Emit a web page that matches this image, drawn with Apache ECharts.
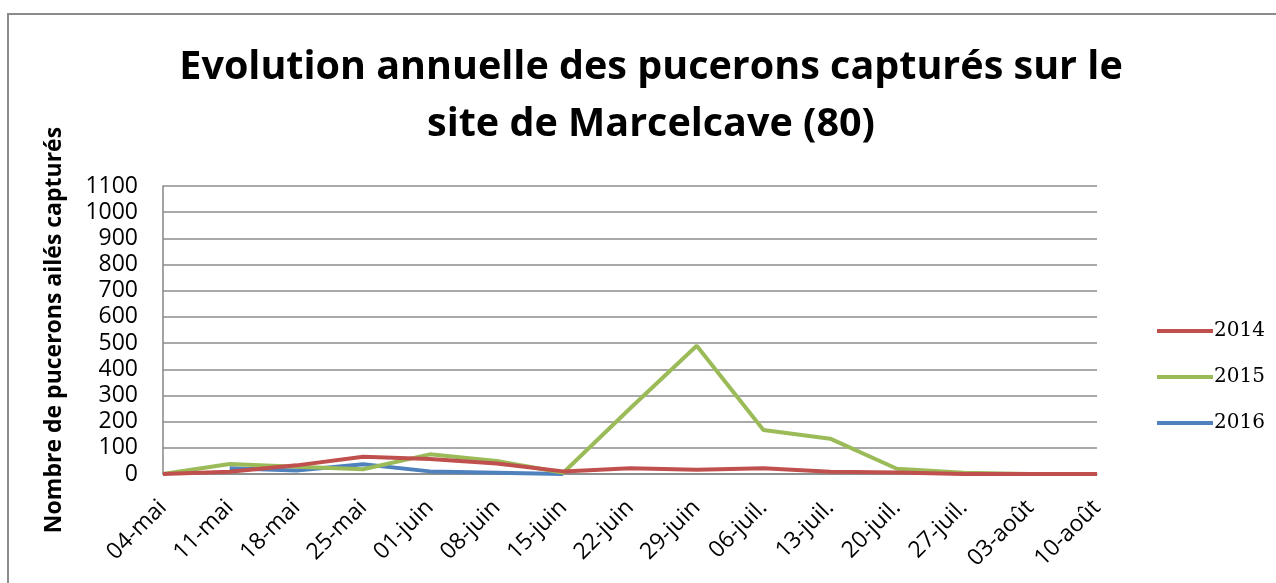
<!DOCTYPE html>
<html>
<head>
<meta charset="utf-8">
<script src="https://cdn.jsdelivr.net/npm/echarts@6/dist/echarts.min.js"></script>
<style>
  * { margin: 0; padding: 0; }
  body { width: 1276px; height: 583px; background: #fff; overflow: hidden; position: relative; }
  #frame { position: absolute; left: 7px; top: 13px; width: 1300px; height: 600px; border: 2px solid #8c8c8c; box-sizing: border-box; }
  #main { position: absolute; left: 0; top: 0; width: 1276px; height: 583px; }
</style>
</head>
<body>
<div id="frame"></div>
<div id="main"></div>
<script>
  // semaines de capture
  var semaines = ['04-mai','11-mai','18-mai','25-mai','01-juin','08-juin','15-juin','22-juin','29-juin','06-juil.','13-juil.','20-juil.','27-juil.','03-août','10-août'];
  var annees = ['2014', '2015', '2016'];
  var serie2014 = [0, 9, 33, 66, 57, 40, 10, 22, 16, 22, 9, 6, 0, 0, 0];
  var serie2015 = [0, 38, 28, 18, 75, 50, 5, 250, 490, 168, 135, 20, 5, 0, 0];
  var serie2016 = [null, 22, 13, 37, 10, 5, 0, null, null, null, null, null, null, null, null];
  var couleurs = ['#C0504D', '#9BBB59', '#4F81BD'];

  var chart = echarts.init(document.getElementById('main'));
  var police = "'Open Sans', 'DejaVu Sans', sans-serif";

  function ligne(nom, data, i) {
    return {
      name: nom,
      type: 'line',
      data: data,
      showSymbol: false,
      symbol: 'none',
      connectNulls: false,
      lineStyle: { color: couleurs[i], width: 4 },
      itemStyle: { color: couleurs[i] },
      z: 3 - i
    };
  }

  chart.setOption({
    animation: false,
    title: {
      text: 'Evolution annuelle des pucerons capturés sur le\nsite de Marcelcave (80)',
      left: 646,
      textAlign: 'center',
      top: 34,
      textStyle: { fontFamily: police, fontWeight: 'bold', fontSize: 39.5, color: '#000', lineHeight: 57 }
    },
    legend: {
      orient: 'vertical',
      left: 1152,
      top: 316,
      itemGap: 26,
      itemWidth: 56,
      itemHeight: 4,
      icon: 'rect',
      data: annees,
      textStyle: { fontFamily: "'DejaVu Serif', 'Liberation Serif', serif", fontSize: 20, color: '#000', padding: [0, 0, 0, -4] }
    },
    grid: { left: 163, right: 179, top: 186, bottom: 109, containLabel: false },
    xAxis: {
      type: 'category',
      boundaryGap: false,
      data: semaines,
      axisLine: { lineStyle: { color: '#868686', width: 1.5 } },
      axisTick: { show: false },
      axisLabel: { rotate: 45, fontFamily: police, fontSize: 23, color: '#000', margin: 30, interval: 0 }
    },
    yAxis: {
      type: 'value',
      min: 0,
      max: 1100,
      interval: 100,
      name: 'Nombre de pucerons ailés capturés',
      nameLocation: 'middle',
      nameGap: 97,
      nameTextStyle: { fontFamily: police, fontWeight: 'bold', fontSize: 23, color: '#000' },
      axisLine: { show: true, lineStyle: { color: '#868686', width: 1.5 } },
      axisTick: { show: false },
      axisLabel: { fontFamily: police, fontSize: 23, color: '#000', margin: 25, formatter: function (v) { return String(v); } },
      splitLine: { lineStyle: { color: '#8c8c8c', width: 1.5 } }
    },
    series: [
      ligne(annees[0], serie2014, 0),
      ligne(annees[1], serie2015, 1),
      ligne(annees[2], serie2016, 2)
    ]
  });
</script>
</body>
</html>
